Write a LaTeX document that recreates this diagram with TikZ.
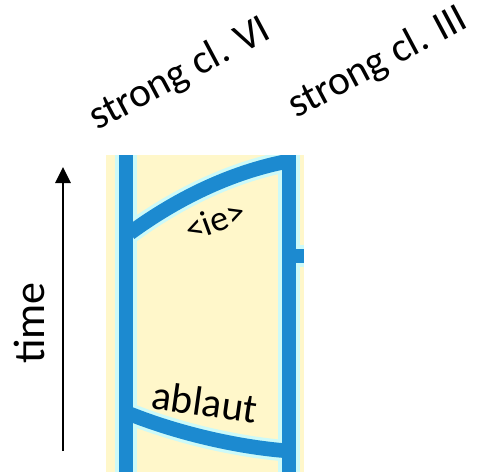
\documentclass[tikz,border=0pt]{standalone}
\usepackage{fontspec}
\setmainfont{Carlito}
\usetikzlibrary{arrows.meta}
\definecolor{lineblue}{RGB}{28,138,208}
\definecolor{panelyellow}{RGB}{255,247,202}
\definecolor{halocyan}{RGB}{205,250,248}
\tikzset{
  bluestroke/.style={draw=lineblue, line width=11pt},
  halostroke/.style={draw=halocyan, line width=16pt},
  label/.style={inner sep=0pt, font=\fontsize{31}{31}\selectfont},
  smalllabel/.style={inner sep=0pt, font=\fontsize{27}{27}\selectfont},
}
\begin{document}
\begin{tikzpicture}[x=0.75pt, y=-0.75pt]
\useasboundingbox (0,0) rectangle (477,472);

% column titles
\node[label, rotate=28, anchor=base west] (vi) at (97,131) {strong cl. VI};
\node[label, rotate=28, anchor=base west] (iii) at (296,119) {strong cl. III};

% time axis
\coordinate (tstart) at (63,451);
\coordinate (tend) at (63,167);
\draw[line width=1.6pt, -{Triangle[length=12pt, width=11.5pt]}] (tstart) -- (tend);
\node[label, font=\fontsize{33}{33}\selectfont, rotate=90] (time) at (29,323) {time};

% panel
\fill[panelyellow] (106,155) rectangle (304,472);

% boundaries of the column
\coordinate (lt) at (126,155);
\coordinate (lb) at (126,472);
\coordinate (rt) at (289,155);
\coordinate (rb) at (289,472);
\coordinate (ua) at (130,233);
\coordinate (ub) at (289,161);
\coordinate (la) at (130,414);
\coordinate (lbb) at (289,451);
\coordinate (sa) at (289,256);
\coordinate (sb) at (304,256);

\begin{scope}
\clip (106,155) rectangle (304,472);
\foreach \s in {halostroke, bluestroke}{
  \draw[\s] (lt) -- (lb);
  \draw[\s] (rt) -- (rb);
  \draw[\s] (ua) .. controls (175,200) and (230,172) .. (ub);
  \draw[\s] (la) .. controls (175,432) and (235,447) .. (lbb);
  \draw[\s] (sa) -- (sb);
}
\end{scope}

% labels inside the column
\node[smalllabel, rotate=20] (ie) at (215,220) {<ie>};
\node[label, rotate=-8] (ablaut) at (205,402) {ablaut};
\end{tikzpicture}
\end{document}
